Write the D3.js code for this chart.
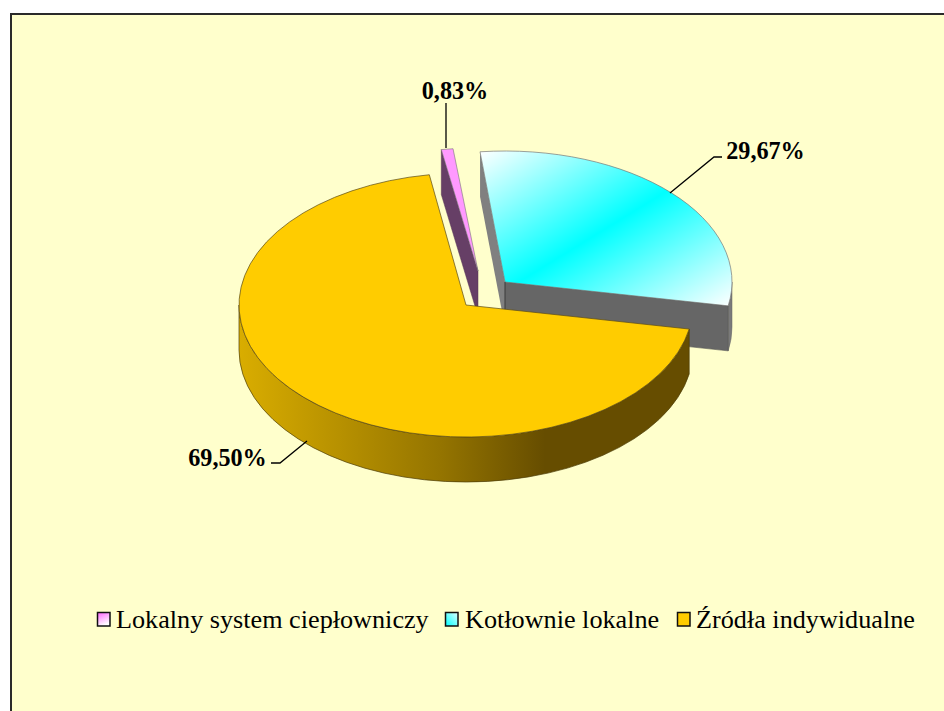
<!DOCTYPE html>
<html><head><meta charset="utf-8">
<script src="https://cdn.jsdelivr.net/npm/d3@7"></script>
<style>html,body{margin:0;padding:0;background:#fff}svg{display:block}</style>
</head><body><svg id="c" width="944" height="711"></svg>
<script>
const categories = ["Lokalny system ciepłowniczy", "Kotłownie lokalne", "Źródła indywidualne"];
const shares = [0.83, 29.67, 69.50];
const valueLabels = ["0,83%", "29,67%", "69,50%"];

const svg = d3.select("#c");
const W = 944, H = 711, RX = 227, DEPTH = 45;
const serif = "'Liberation Serif','Times New Roman',serif";

// pie layout: first slice begins at 260.7deg measured clockwise from 3 o'clock
const startDeg = 260.7;
const arcs = d3.pie().sort(null).startAngle(0).endAngle(2*Math.PI)(shares);
const toRad = a => a + startDeg*Math.PI/180;
// exploded drawing: apex and vertical radius of each slice (perspective)
const apexes = [[478,271],[505,282],[466,305]];
const radiiY = [123,131,132];
const rimPt = (i,t,dz=0) => [apexes[i][0]+RX*Math.cos(t), apexes[i][1]+radiiY[i]*Math.sin(t)+dz];
function rim(i,a0,a1,dz,rev){
  const end = rimPt(i,a1,dz), large = Math.abs(a1-a0)>Math.PI?1:0;
  return `A${RX},${radiiY[i]} 0 ${large} ${rev?0:1} ${end[0]},${end[1]}`;
}
const defs = svg.append("defs");
const lg = (id,x1,y1,x2,y2,stops) => {
  const g = defs.append("linearGradient").attr("id",id).attr("x1",x1).attr("y1",y1).attr("x2",x2).attr("y2",y2);
  stops.forEach(s=>g.append("stop").attr("offset",s[0]).attr("stop-color",s[1]));
};
lg("cy","0","0","1","1",[[0,"#ffffff"],[0.5,"#00ffff"],[1,"#ffffff"]]);
lg("wallO","0","0","1","0",[[0,"#d9ad00"],[0.45,"#947400"],[0.68,"#664d00"],[1,"#664d00"]]);
lg("lgP","0","0","0.4","1",[[0,"#ff66ff"],[1,"#ffffff"]]);
lg("lgC","0","1","1","0",[[0,"#00ffff"],[1,"#e0ffff"]]);
lg("lgO","0","0","1","1",[[0,"#ffcc00"],[1,"#ffcc00"]]);

// frame
svg.append("rect").attr("x",11).attr("y",14).attr("width",W).attr("height",H).attr("fill","#ffffcc").attr("stroke","#2a2a2a").attr("stroke-width",2);

const slice = i => {
  const a = arcs[i], a0 = toRad(a.startAngle), a1 = toRad(a.endAngle);
  return {c:apexes[i],a0,a1,p0:rimPt(i,a0),p1:rimPt(i,a1)};
};
const poly = pts => "M"+pts.map(p=>p.join(",")).join("L")+"Z";
const below = p => [p[0],p[1]+DEPTH];

// Kotłownie lokalne (cyan)
{
  const s = slice(1), {c,p0,p1} = s, t0 = 2*Math.PI, r = rimPt(1,t0);
  svg.append("path").attr("d",poly([p0,c,below(c),below(p0)])).attr("fill","#808080");
  svg.append("path").attr("d",`M${r}${rim(1,t0,s.a1,0)}L${below(p1)}${rim(1,s.a1,t0,DEPTH,true)}Z`).attr("fill","#7a7a7a").attr("stroke","#666").attr("stroke-width",.5);
  svg.append("path").attr("d",poly([c,p1,below(p1),below(c)])).attr("fill","#666666").attr("stroke","#555").attr("stroke-width",.6);
  svg.append("path").attr("d",`M${c}L${p0}${rim(1,s.a0,s.a1,0)}Z`).attr("fill","url(#cy)").attr("stroke","#777").attr("stroke-width",.7);
  svg.append("line").attr("x1",c[0]).attr("y1",c[1]).attr("x2",c[0]).attr("y2",c[1]+DEPTH).attr("stroke","#333").attr("stroke-width",.7);
}
// Lokalny system (pink)
{
  const s = slice(0), {c,p0} = s;
  svg.append("path").attr("d",poly([p0,c,below(c),below(p0)])).attr("fill","#663f66").attr("stroke","#553355").attr("stroke-width",.5);
  svg.append("path").attr("d",`M${c}L${p0}${rim(0,s.a0,s.a1,0)}Z`).attr("fill","#ff99ff").attr("stroke","#777").attr("stroke-width",.6);
}
// Źródła indywidualne (orange)
{
  const s = slice(2), {c,p0} = s, tLeft = 3*Math.PI;
  const bL = rimPt(2,tLeft);
  svg.append("path")
    .attr("d",`M${p0}L${below(p0)}${rim(2,s.a0,tLeft,DEPTH)}L${bL}${rim(2,tLeft,s.a0,0,true)}Z`)
    .attr("fill","url(#wallO)").attr("stroke","#4d3d08").attr("stroke-width",.7);
  svg.append("path").attr("d",`M${c}L${p0}${rim(2,s.a0,s.a1,0)}Z`).attr("fill","#ffcc00").attr("stroke","#5a4a18").attr("stroke-width",.7);
}
// leader lines
const leaders = [[[446,148],[446,103]],[[670,193],[714,157],[722,157]],[[307,441],[280,463],[271,463]]];
svg.append("g").selectAll("path").data(leaders).join("path").attr("d",d3.line()).attr("fill","none").attr("stroke","#000").attr("stroke-width",1.3);
// labels
const labelPos = [[455,99],[765.5,159],[227.5,466]];
svg.append("g").selectAll("text").data(valueLabels).join("text")
  .attr("x",(d,i)=>labelPos[i][0]).attr("y",(d,i)=>labelPos[i][1]).attr("text-anchor","middle")
  .attr("font-family",serif).attr("font-weight","bold").attr("font-size",24.2).attr("fill","#000").text(d=>d);
// legend
const legendSwatchX = [97,445,677], legendTextX = [116,465,696];
const leg = svg.append("g");
["lgP","lgC","lgO"].forEach((g,i)=>{
  leg.append("rect").attr("x",legendSwatchX[i]+.5).attr("y",612.5).attr("width",12.5).attr("height",13.5).attr("fill",`url(#${g})`).attr("stroke","#111").attr("stroke-width",1.5);
  leg.append("text").attr("x",legendTextX[i]).attr("y",628).attr("font-family",serif).attr("font-size",26.2).attr("fill","#000").text(categories[i]);
});
</script></body></html>
